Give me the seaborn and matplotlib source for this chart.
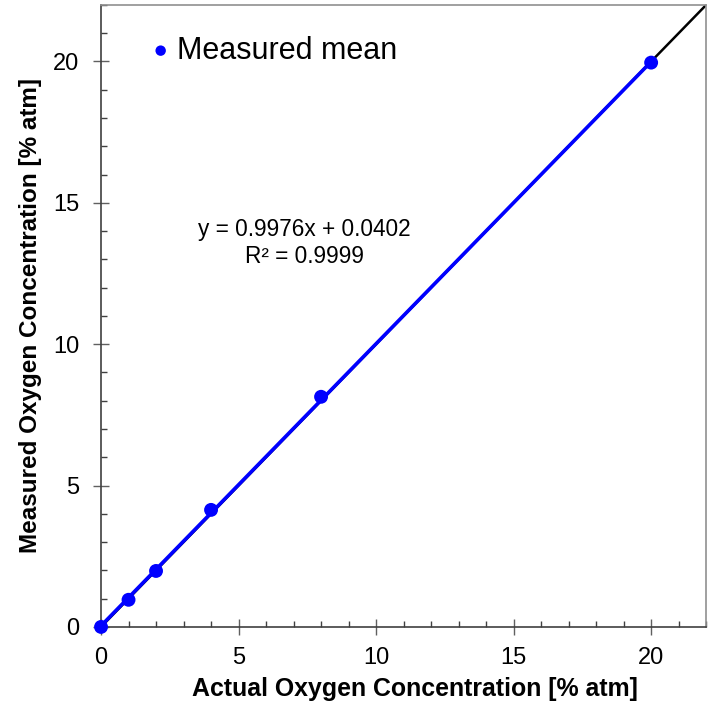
import numpy as np
import pandas as pd
import seaborn as sns
from matplotlib import pyplot as plt
from matplotlib.ticker import MultipleLocator

# Data
actual = [0, 1, 2, 4, 8, 20]
measured = [0.0, 0.96, 1.98, 4.14, 8.14, 19.96]
slope = 0.9976
intercept = 0.0402
r_squared = 0.9999
identity_x = [0, 22]

sns.set_theme(style="ticks")
plt.rcParams['font.family'] = ['Liberation Sans', 'DejaVu Sans']
plt.rcParams['text.color'] = 'black'
plt.rcParams['axes.labelcolor'] = 'black'
plt.rcParams['xtick.labelcolor'] = 'black'
plt.rcParams['ytick.labelcolor'] = 'black'

df = pd.DataFrame({"actual": actual, "measured": measured})
fit_x = np.array([min(actual), max(actual)])
fit_df = pd.DataFrame({"x": fit_x, "y": slope * fit_x + intercept})
ident_df = pd.DataFrame({"x": identity_x, "y": identity_x})

fig = plt.figure(figsize=(7.14, 7.06), dpi=100)
ax = fig.add_axes([0.1415, 0.112, 0.8475, 0.881])

# identity line behind, fit line, then points
sns.lineplot(data=ident_df, x="x", y="y", ax=ax, color="black", linewidth=1.8, zorder=1)
sns.lineplot(data=fit_df, x="x", y="y", ax=ax, color="#0000ff", linewidth=2.6, zorder=2)
sns.scatterplot(data=df, x="actual", y="measured", ax=ax, color="#0000ff", s=100,
                edgecolor="none", zorder=3, label="Measured mean", clip_on=False)

ax.set_xlim(0, 22)
ax.set_ylim(0, 22)
ax.xaxis.set_major_locator(MultipleLocator(5))
ax.yaxis.set_major_locator(MultipleLocator(5))
ax.xaxis.set_minor_locator(MultipleLocator(1))
ax.yaxis.set_minor_locator(MultipleLocator(1))
ax.tick_params(which="major", direction="inout", length=11.5, width=1, color="#606060",
               labelsize=17)
ax.tick_params(axis="x", which="major", pad=8.5)
ax.tick_params(axis="y", which="major", pad=10)
ax.tick_params(which="minor", direction="in", length=4, width=1, color="#404040")
ax.tick_params(top=False, right=False, which="both")

for side in ["left", "bottom"]:
    ax.spines[side].set_color("#404040")
    ax.spines[side].set_linewidth(1.2)
for side in ["top", "right"]:
    ax.spines[side].set_visible(True)
    ax.spines[side].set_color("#909090")
    ax.spines[side].set_linewidth(1.2)

ax.set_xlabel("Actual Oxygen Concentration [% atm]", fontsize=17.9, fontweight="bold")
ax.xaxis.set_label_coords(0.519, -0.081)
ax.set_ylabel("Measured Oxygen Concentration [% atm]", fontsize=17.5, fontweight="bold", labelpad=8)

ax.text(7.4, 14.05, "y = %.4fx + %.4f" % (slope, intercept), fontsize=16.3, ha="center", va="center")
ax.text(7.4, 13.1, "R\u00b2 = %.4f" % r_squared, fontsize=16.3, ha="center", va="center")

ax.legend(loc="upper left", bbox_to_anchor=(0.043, 0.985), frameon=False, fontsize=22,
          handlelength=0.8, handletextpad=0.13, borderaxespad=0.3, markerscale=0.75)

fig.savefig("out.png", dpi=100)
